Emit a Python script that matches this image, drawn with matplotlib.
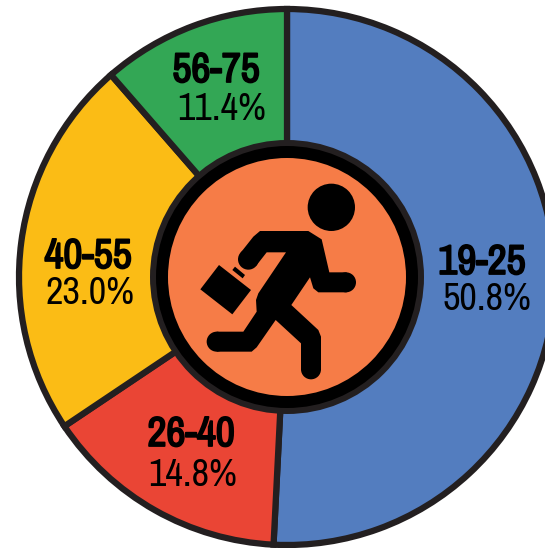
import matplotlib
matplotlib.use("Agg")
import matplotlib.pyplot as plt
import matplotlib.patheffects as pe
from matplotlib.patches import Circle, Polygon

W, H = 545, 548
age_groups = ["19-25", "26-40", "40-55", "56-75"]
shares = [50.8, 14.8, 23.0, 11.4]
colors = ["#537dbf", "#ea4535", "#fbbc15", "#33a755"]
group_pos = [(482, 262), (191, 434), (88, 256), (216, 70)]
share_pos = [(487, 300), (193, 475), (90, 294), (222, 109)]

EDGE = "#231f20"
CX, CY, R = 287, 277, 268

plt.rcParams["font.family"] = ["Archivo Narrow", "PT Sans Narrow", "Liberation Sans", "DejaVu Sans"]
fig = plt.figure(figsize=(W / 100, H / 100), dpi=100, facecolor="white")
ax = fig.add_axes([0, 0, 1, 1])


def fy(y):
    return H - y


ax.pie(shares, colors=colors, startangle=90, counterclock=False, center=(CX, fy(CY)), radius=R,
       wedgeprops=dict(edgecolor=EDGE, linewidth=4.5, joinstyle="miter"), frame=True)
ax.set_xlim(0, W)
ax.set_ylim(0, H)
ax.set_aspect("equal")
ax.axis("off")

ax.add_patch(Circle((CX, fy(CY)), 137, fc=EDGE, ec="none", zorder=5))
ax.add_patch(Circle((CX, fy(CY)), 131, fc="black", ec="none", zorder=6))
ax.add_patch(Circle((CX, fy(CY)), 119, fc="#f67c47", ec="none", zorder=7))


# runner icon, traced in zoomed-crop coordinates (150,140 offset, 3x)
def z(pts):
    return [(150 + x / 3, fy(140 + y / 3)) for x, y in pts]


body = [(330, 273), (475, 273), (515, 298), (538, 397), (590, 397), (590, 457), (505, 457), (490, 445),
        (480, 412), (424, 495), (505, 570), (513, 590), (513, 690), (453, 690), (453, 610), (377, 540),
        (320, 622), (305, 635), (200, 635), (200, 575), (280, 575), (320, 515), (318, 480), (325, 460),
        (408, 337), (350, 337), (318, 378), (272, 338), (310, 290)]
case = [(207, 375), (303, 450), (247, 523), (151, 448)]
handle = [(255, 380), (285, 405), (278, 415), (247, 390)]
for pts in (body, case, handle):
    ax.add_patch(Polygon(z(pts), closed=True, fc="black", ec="none", zorder=8))
for x, y, r in [(544, 202, 71), (588, 427, 30), (483, 688, 30), (200, 605, 30), (295, 358, 31)]:
    (px, py), = z([(x, y)])
    ax.add_patch(Circle((px, py), r / 3, fc="black", ec="none", zorder=8))

bold = [pe.withStroke(linewidth=1.3, foreground="black")]
for name, val, gp, sp in zip(age_groups, shares, group_pos, share_pos):
    ax.text(gp[0], fy(gp[1]), name, ha="center", va="center", fontsize=30, color="black",
            zorder=9, path_effects=bold)
    ax.text(sp[0], fy(sp[1]), f"{val:.1f}%", ha="center", va="center", fontsize=27.5,
            color="black", zorder=9)

fig.savefig("out.png", dpi=100)
